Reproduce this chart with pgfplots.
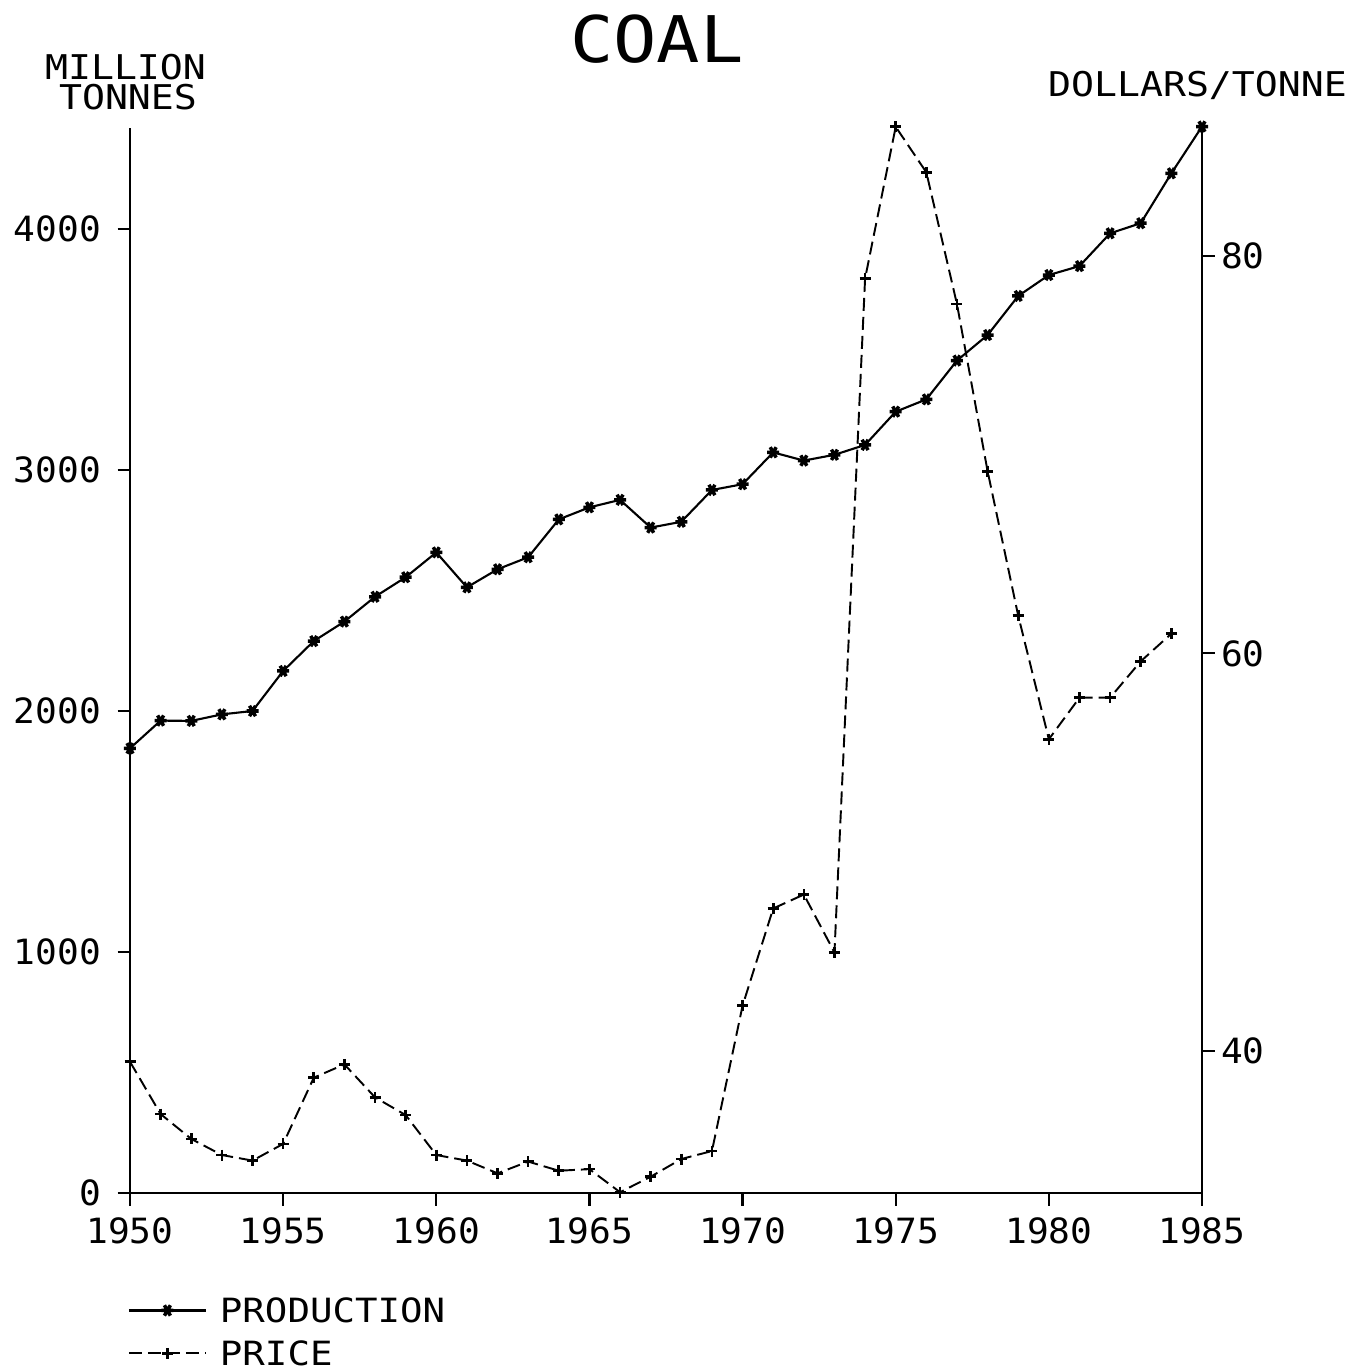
\documentclass[border=0pt]{standalone}
\usepackage{fontspec}
\setmainfont{DejaVu Sans Mono}
\newfontfamily\tickfont{DejaVu Sans Mono}[FakeStretch=1.04]
\newfontfamily\labfont{DejaVu Sans Mono}[FakeStretch=1.12]
\usepackage{pgfplots}
\pgfplotsset{compat=1.18}
\pgfplotstableread{
year prod
1950 1845
1951 1960
1952 1959
1953 1986
1954 2000
1955 2166
1956 2290
1957 2371
1958 2474
1959 2555
1960 2658
1961 2513
1962 2588
1963 2638
1964 2795
1965 2845
1966 2876
1967 2761
1968 2785
1969 2917
1970 2941
1971 3073
1972 3039
1973 3063
1974 3104
1975 3242
1976 3293
1977 3454
1978 3560
1979 3722
1980 3809
1981 3846
1982 3982
1983 4024
1984 4231
1985 4425
}\prodtable
\pgfplotstableread{
year price
1950 39.46
1951 36.83
1952 35.58
1953 34.77
1954 34.49
1955 35.33
1956 38.66
1957 39.33
1958 37.67
1959 36.78
1960 34.77
1961 34.49
1962 33.85
1963 34.44
1964 33.98
1965 34.06
1966 32.90
1967 33.68
1968 34.57
1969 34.97
1970 42.28
1971 47.17
1972 47.87
1973 44.96
1974 78.85
1975 86.48
1976 84.19
1977 77.56
1978 69.16
1979 61.89
1980 55.68
1981 57.77
1982 57.77
1983 59.60
1984 60.99
}\pricetable
\begin{document}
\begin{tikzpicture}
\path[use as bounding box] (0,0) rectangle (135.8mm,-137.1mm);
\pgfplotsset{
  common/.style={
    at={(13mm,-119.3mm)}, anchor=south west,
    scale only axis, width=107.2mm, height=106.5mm,
    xmin=1950, xmax=1985,
    clip=false,
    axis line style={line width=0.65pt, -},
    tick align=outside, major tick length=1.25mm,
    every tick/.style={line width=0.65pt, black},
    /pgf/number format/assume math mode=true,
    ticklabel style={font=\tickfont\fontsize{9.9pt}{11pt}\selectfont, inner sep=0pt},
  },
}
\begin{axis}[common,
  ymin=0, ymax=4419,
  axis x line*=bottom, axis y line*=left,
  xtick={1950,1955,1960,1965,1970,1975,1980,1985},
  xticklabels={1950,1955,1960,1965,1970,1975,1980,1985},
  ytick={0,1000,2000,3000,4000},
  yticklabels={0,1000,2000,3000,4000},
  xticklabel style={anchor=north, yshift=-1.1mm},
  yticklabel style={anchor=east, xshift=-1.6mm},
  legend style={at={(-0.002,-0.099)}, anchor=north west, draw=none, fill=none,
    inner sep=0pt, outer sep=0pt,
    font=\labfont\fontsize{9.5pt}{10pt}\selectfont,
    row sep=1.9mm, column sep=1.3mm,
    nodes={inner sep=0pt, text height=2.4mm, text depth=0pt}},
  legend cell align=left,
  legend image code/.code={\draw[mark repeat=2,mark phase=2,#1] plot coordinates {(0mm,0mm) (3.85mm,0mm) (7.7mm,0mm)};},
]
\addplot[black, line width=0.6pt, mark=asterisk, mark size=0.6mm, mark options={solid, line width=1pt, rotate=90}] table[x=year, y=prod] {\prodtable};
\addlegendentry{PRODUCTION}
\addlegendimage{black, line width=0.55pt, dash pattern=on 1.3mm off 0.6mm, mark=+, mark size=0.55mm, mark options={solid, line width=0.75pt}}
\addlegendentry{PRICE}
\end{axis}
\begin{axis}[common,
  ymin=32.86, ymax=86.42,
  axis x line=none, axis y line*=right,
  ytick={40,60,80},
  yticklabels={40,60,80},
  yticklabel style={anchor=west, xshift=0.6mm},
]
\addplot[black, line width=0.55pt, dash pattern=on 1.3mm off 0.6mm, mark=+, mark size=0.55mm, mark options={solid, line width=0.75pt}] table[x=year, y=price] {\pricetable};
\end{axis}
\node[anchor=base, font=\labfont\fontsize{18.3pt}{20pt}\selectfont, inner sep=0pt] at (65.7mm,-6.2mm) {COAL};
\node[anchor=base, font=\labfont\fontsize{9.7pt}{10pt}\selectfont, inner sep=0pt] at (12.55mm,-8.0mm) {MILLION};
\node[anchor=base, font=\labfont\fontsize{9.7pt}{10pt}\selectfont, inner sep=0pt] at (12.8mm,-11.0mm) {TONNES};
\node[anchor=base, font=\labfont\fontsize{9.7pt}{10pt}\selectfont, inner sep=0pt] at (119.75mm,-9.7mm) {DOLLARS/TONNE};
\end{tikzpicture}
\end{document}
